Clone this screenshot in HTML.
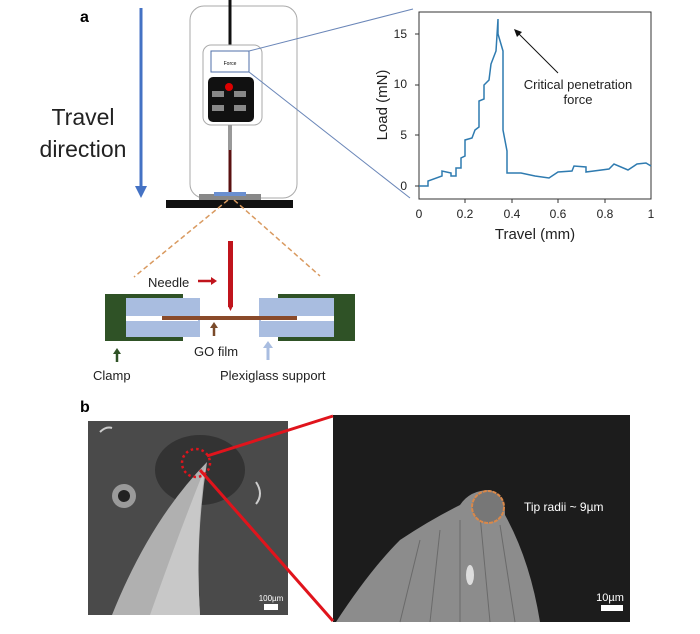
<!DOCTYPE html>
<html><head><meta charset="utf-8"><style>
body{margin:0;background:#fff;}
svg{display:block;font-family:"Liberation Sans",sans-serif;}
</style></head><body>
<svg width="700" height="634" viewBox="0 0 700 634" xmlns="http://www.w3.org/2000/svg">
<defs>
<marker id="ah" markerWidth="8" markerHeight="8" refX="4" refY="4" orient="auto"><path d="M0,0 L8,4 L0,8 z" fill="#4472c4"/></marker>
<radialGradient id="sem1" cx="0.5" cy="0.3" r="0.8"><stop offset="0" stop-color="#3a3a3a"/><stop offset="1" stop-color="#555"/></radialGradient>
</defs>
<text x="80" y="22" font-size="16" font-weight="bold">a</text>
<text x="80" y="412" font-size="16" font-weight="bold">b</text>
<!-- travel -->
<line x1="141" y1="8" x2="141" y2="188" stroke="#4472c4" stroke-width="3"/>
<path d="M135,186 L147,186 L141,198 z" fill="#4472c4"/>
<text x="83" y="125" font-size="23" text-anchor="middle" fill="#222">Travel</text>
<text x="83" y="157" font-size="23" text-anchor="middle" fill="#222">direction</text>
<!-- machine -->
<rect x="190" y="6" width="107" height="192" rx="14" fill="none" stroke="#aaa" stroke-width="1"/>
<line x1="230" y1="0" x2="230" y2="45" stroke="#111" stroke-width="3"/>
<rect x="203" y="45" width="59" height="80" rx="8" fill="#fff" stroke="#aaa"/>
<rect x="211" y="51" width="38" height="21" fill="#fff" stroke="#4f6fa8" stroke-width="1"/>
<text x="230" y="65" font-size="5" text-anchor="middle">Force</text>
<rect x="208" y="77" width="46" height="45" rx="5" fill="#111"/>
<circle cx="229" cy="87" r="4" fill="#d00"/>
<rect x="212" y="91" width="12" height="6" fill="#888"/><rect x="234" y="91" width="12" height="6" fill="#888"/>
<rect x="212" y="105" width="12" height="6" fill="#888"/><rect x="234" y="105" width="12" height="6" fill="#888"/>
<rect x="228" y="125" width="4" height="25" fill="#999"/>
<rect x="228.5" y="150" width="3" height="44" fill="#5a1010"/>
<rect x="199" y="194" width="62" height="6" fill="#888"/>
<rect x="214" y="192" width="32" height="4" fill="#6a8fd0"/>
<rect x="166" y="200" width="127" height="8" fill="#111"/>
<!-- zoom lines -->
<line x1="249" y1="51" x2="413" y2="9" stroke="#6a86b8" stroke-width="1"/>
<line x1="249" y1="72" x2="410" y2="198" stroke="#6a86b8" stroke-width="1"/>
<line x1="228" y1="200" x2="134" y2="277" stroke="#d99a60" stroke-width="1.5" stroke-dasharray="5,3"/>
<line x1="234" y1="200" x2="320" y2="276" stroke="#d99a60" stroke-width="1.5" stroke-dasharray="5,3"/>
<!-- chart -->
<rect x="419" y="12" width="232" height="187" fill="none" stroke="#333" stroke-width="1"/>
<g font-size="12" fill="#222">
<text x="407" y="190" text-anchor="end">0</text>
<text x="407" y="139" text-anchor="end">5</text>
<text x="407" y="88" text-anchor="end">10</text>
<text x="407" y="38" text-anchor="end">15</text>
<text x="419" y="218" text-anchor="middle">0</text>
<text x="465" y="218" text-anchor="middle">0.2</text>
<text x="512" y="218" text-anchor="middle">0.4</text>
<text x="558" y="218" text-anchor="middle">0.6</text>
<text x="605" y="218" text-anchor="middle">0.8</text>
<text x="651" y="218" text-anchor="middle">1</text>
</g>
<g stroke="#333"><line x1="415" y1="186" x2="419" y2="186"/><line x1="415" y1="135" x2="419" y2="135"/><line x1="415" y1="85" x2="419" y2="85"/><line x1="415" y1="34" x2="419" y2="34"/>
<line x1="465" y1="199" x2="465" y2="203"/><line x1="512" y1="199" x2="512" y2="203"/><line x1="558" y1="199" x2="558" y2="203"/><line x1="605" y1="199" x2="605" y2="203"/></g>
<text x="535" y="239" font-size="15" text-anchor="middle" fill="#222">Travel (mm)</text>
<text transform="translate(387,105) rotate(-90)" font-size="15" text-anchor="middle" fill="#222">Load (mN)</text>
<polyline fill="none" stroke="#2f7bb0" stroke-width="1.5" points="419,186 428,186 428,181 442,176 442,171 451,173 451,176 456,176 456,168 461,168 461,158 465,156 465,140 472,138 475,130 479,127 479,101 484,99 484,85 489,80 491,64 496,51 498,19 498,34 503,51 503,130 507,151 507,173 521,173 535,176 549,178 558,172 572,171 574,166 586,167 586,172 609,169 614,164 628,170 637,164 646,163 651,166"/>
<line x1="558" y1="73" x2="517" y2="32" stroke="#111" stroke-width="1"/>
<path d="M514,29 L522,32 L517,37 z" fill="#111"/>
<text x="578" y="89" font-size="13" text-anchor="middle" fill="#222">Critical penetration</text>
<text x="578" y="104" font-size="13" text-anchor="middle" fill="#222">force</text>
<!-- schematic -->
<rect x="105" y="294" width="78" height="47" fill="#2f5226"/>
<rect x="126" y="298" width="74" height="39" fill="#a9bde0"/>
<rect x="126" y="316" width="72" height="5" fill="#fff"/>
<rect x="278" y="294" width="77" height="47" fill="#2f5226"/>
<rect x="259" y="298" width="75" height="39" fill="#a9bde0"/>
<rect x="261" y="316" width="73" height="5" fill="#fff"/>
<rect x="162" y="316" width="135" height="4" fill="#8a4a2a"/>
<rect x="228" y="241" width="5" height="66" fill="#c0141c"/>
<path d="M228,306 L233,306 L230.5,311 z" fill="#c0141c"/>
<text x="148" y="287" font-size="13" fill="#222">Needle</text>
<line x1="198" y1="281" x2="212" y2="281" stroke="#c0141c" stroke-width="2.5"/><path d="M211,277 L217,281 L211,285 z" fill="#c0141c"/>
<line x1="214" y1="336" x2="214" y2="327" stroke="#7a4a2a" stroke-width="2.5"/><path d="M210,328 L214,322 L218,328 z" fill="#7a4a2a"/>
<text x="194" y="356" font-size="13" fill="#222">GO film</text>
<line x1="117" y1="362" x2="117" y2="353" stroke="#2f5226" stroke-width="2.5"/><path d="M113,354 L117,348 L121,354 z" fill="#2f5226"/>
<text x="93" y="380" font-size="13" fill="#222">Clamp</text>
<line x1="268" y1="360" x2="268" y2="347" stroke="#a9bde0" stroke-width="3"/><path d="M263,348 L268,341 L273,348 z" fill="#a9bde0"/>
<text x="220" y="380" font-size="13" fill="#222">Plexiglass support</text>
<!-- SEM left -->
<rect x="88" y="421" width="200" height="194" fill="#4a4a4a"/>
<ellipse cx="200" cy="470" rx="45" ry="35" fill="#333"/>
<path d="M112,615 Q150,520 207,462 Q195,540 200,615 z" fill="#b0b0b0"/>
<path d="M150,615 Q180,530 205,468 Q195,540 200,615 z" fill="#c8c8c8"/>
<circle cx="124" cy="496" r="12" fill="#9a9a9a"/><circle cx="124" cy="496" r="6" fill="#222"/>
<path d="M100,432 q6,-6 12,-4" stroke="#ccc" fill="none" stroke-width="2"/>
<path d="M256,482 q8,12 0,22" stroke="#ccc" fill="none" stroke-width="2"/>
<circle cx="196" cy="463" r="14" fill="none" stroke="#e0141c" stroke-width="2.5" stroke-dasharray="2.5,3"/>
<text x="271" y="601" font-size="8" fill="#fff" text-anchor="middle">100µm</text>
<rect x="264" y="604" width="14" height="6" fill="#fff"/>
<!-- SEM right -->
<rect x="333" y="415" width="297" height="207" fill="#1c1c1c"/>
<path d="M336,622 Q370,570 400,540 Q430,520 460,505 Q470,490 490,490 Q505,495 505,515 Q530,560 540,622 z" fill="#8c8c8c"/>
<g stroke="#6a6a6a" stroke-width="1"><line x1="420" y1="540" x2="400" y2="622"/><line x1="440" y1="530" x2="430" y2="622"/><line x1="460" y1="520" x2="460" y2="622"/><line x1="480" y1="515" x2="490" y2="622"/><line x1="500" y1="525" x2="515" y2="622"/></g>
<ellipse cx="470" cy="575" rx="4" ry="10" fill="#ddd"/>
<circle cx="488" cy="507" r="16" fill="#777" stroke="#d9884a" stroke-width="2" stroke-dasharray="4,1"/>
<text x="524" y="511" font-size="12" fill="#fff">Tip radii ~ 9µm</text>
<text x="610" y="601" font-size="11" fill="#fff" text-anchor="middle">10µm</text>
<rect x="601" y="605" width="22" height="6" fill="#fff"/>
<line x1="207" y1="456" x2="333" y2="416" stroke="#e0141c" stroke-width="3"/>
<line x1="200" y1="470" x2="333" y2="621" stroke="#e0141c" stroke-width="3"/>
</svg>
</body></html>
